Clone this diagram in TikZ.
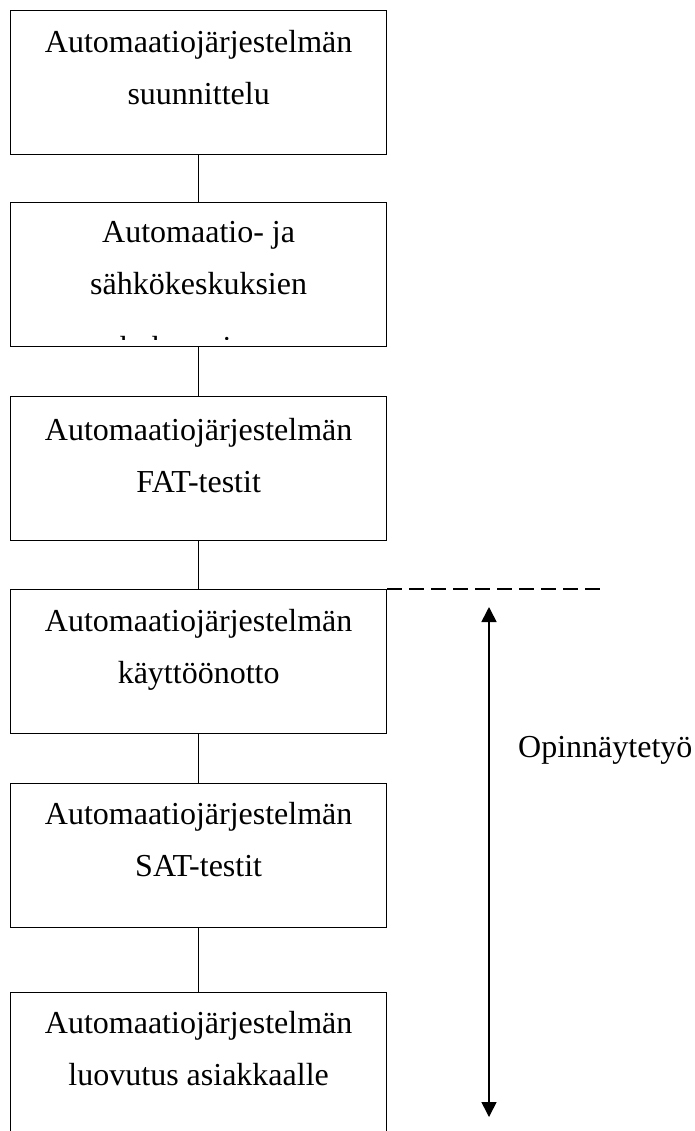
\documentclass[tikz,border=0pt]{standalone}
\usepackage{fontspec}
\setmainfont{Liberation Serif}
\usetikzlibrary{positioning,arrows.meta}
\begin{document}
\begin{tikzpicture}[x=1pt,y=-1pt,font=\fontsize{32}{52}\selectfont]
      \tikzstyle{phase}=[draw,line width=1.3pt,minimum width=376pt,minimum height=144pt,inner sep=0pt,anchor=north west]
      \tikzstyle{phasetext}=[align=center,inner sep=0pt,anchor=north]
      \tikzstyle{link}=[draw,line width=1.6pt]
      \useasboundingbox (0,0) rectangle (694,1131);
      \node[phase] (suunnittelu) at (10,10) {};
      \node[phase] (kokoaminen) at (10,202) {};
      \node[phase] (fat) at (10,396) {};
      \node[phase] (kaytto) at (10,589) {};
      \node[phase] (sat) at (10,783) {};
      \node[phase] (luovutus) at (10,992) {};
      \node[phasetext, below=20pt of suunnittelu.north] {Automaatiojärjestelmän\\suunnittelu};
      \begin{scope}
        \clip (kokoaminen.north west) rectangle ([yshift=8pt]kokoaminen.south east);
        \node[phasetext, below=19pt of kokoaminen.north] {Automaatio- ja\\sähkökeskuksien\\[12pt]kokoaminen};
      \end{scope}
      \node[phasetext, below=22pt of fat.north] {Automaatiojärjestelmän\\FAT-testit};
      \node[phasetext, below=20pt of kaytto.north] {Automaatiojärjestelmän\\käyttöönotto};
      \node[phasetext, below=19pt of sat.north] {Automaatiojärjestelmän\\SAT-testit};
      \node[phasetext, below=19pt of luovutus.north] {Automaatiojärjestelmän\\luovutus asiakkaalle};
      \foreach \a/\b in {suunnittelu/kokoaminen,kokoaminen/fat,fat/kaytto,kaytto/sat,sat/luovutus}
        \draw[link] (\a) -- (\b);
      \coordinate (rajaus) at (607,589);
      \draw[link, dash pattern=on 15pt off 7pt] (kaytto.north east) -- (rajaus);
      \coordinate (alku) at (489,607);
      \coordinate (loppu) at (489,1117);
      \draw[line width=1.6pt, {Triangle[width=15pt,length=15pt]}-{Triangle[width=15pt,length=15pt]}] (alku) -- (loppu);
      \node[anchor=west, inner sep=0pt] (opinnaytetyo) at (518,750) {Opinnäytetyö};
\end{tikzpicture}
\end{document}
